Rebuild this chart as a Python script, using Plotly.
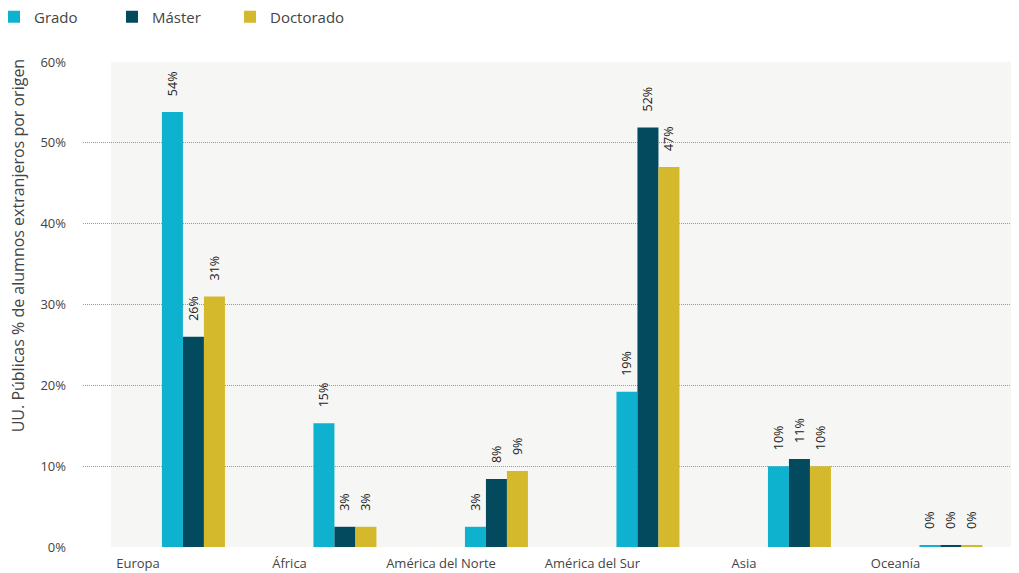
import plotly.graph_objects as go

categories = ["Europa", "África", "América del Norte", "América del Sur", "Asia", "Oceanía"]
series_names = ["Grado", "Máster", "Doctorado"]
grado = [53.8, 15.3, 2.5, 19.2, 10.0, 0.2]
master = [26.0, 2.5, 8.4, 51.9, 10.9, 0.2]
doctorado = [31.0, 2.5, 9.4, 47.0, 10.0, 0.2]
grado_labels = ["54%", "15%", "3%", "19%", "10%", "0%"]
master_labels = ["26%", "3%", "8%", "52%", "11%", "0%"]
doctorado_labels = ["31%", "3%", "9%", "47%", "10%", "0%"]
y_ticks = [0, 10, 20, 30, 40, 50, 60]
y_tick_labels = ["0%", "10%", "20%", "30%", "40%", "50%", "60%"]
y_title = "UU. Públicas % de alumnos extranjeros por origen"

colors = ["#0fb2ce", "#034a5f", "#d5b92c"]
FONT = "Open Sans, Noto Sans, DejaVu Sans, sans-serif"

W, H = 1011, 565  # page has an 8px body margin
L, T, B = 75, 54, 26
PW = W - L

fig = go.Figure()
data = [grado, master, doctorado]
labels = [grado_labels, master_labels, doctorado_labels]
w = 0.1386
start = 0.158
for i, (name, vals, lab, col) in enumerate(zip(series_names, data, labels, colors)):
    fig.add_trace(go.Bar(
        x=categories, y=vals, name=name,
        marker=dict(color=col, line=dict(width=0)),
        width=w, offset=start + i * w,
        text=["\u00a0\u00a0\u00a0\u00a0" + t for t in lab],
        textposition="outside", textangle=-90, constraintext="none",
        textfont=dict(color="#222222", size=12.5, family=FONT),
        cliponaxis=False,
    ))

fig.update_layout(
    width=W, height=H,
    margin=dict(l=L, r=0, t=T, b=B, autoexpand=False),
    paper_bgcolor="white", plot_bgcolor="white",
    barmode="overlay",
    font=dict(family=FONT, color="#444444", size=13),
    showlegend=True,
    legend=dict(orientation="h", x=(-14 - L) / PW, xref="paper", y=1 - 9 / H, yref="container",
                xanchor="left", yanchor="middle", bgcolor="rgba(0,0,0,0)",
                font=dict(size=15, color="#444444", family=FONT),
                entrywidth=73, entrywidthmode="pixels", itemsizing="constant"),
    xaxis=dict(type="category", range=[-0.363, 5.815], showgrid=False, zeroline=False,
               showline=False, ticks="", automargin=False, ticklabelstandoff=7,
               tickfont=dict(size=13, color="#444444")),
    yaxis=dict(range=[0, 60.0], tickvals=y_ticks, ticktext=y_tick_labels,
               showgrid=True, gridcolor="#999999", griddash="1px,1px", gridwidth=1,
               zeroline=False, showline=False, ticks="", ticklabelstandoff=16,
               automargin=False, tickfont=dict(size=13, color="#444444")),
    shapes=[dict(type="rect", xref="paper", yref="paper", x0=28 / PW, x1=1,
                 y0=0, y1=1, fillcolor="#f6f6f4", line=dict(width=0), layer="below")],
    annotations=[dict(text=y_title, xref="paper", yref="paper", x=(10 - L) / PW, y=0.62,
                      xanchor="center", yanchor="middle", textangle=-90, showarrow=False,
                      font=dict(size=16, color="#444444", family=FONT))],
)

fig.write_html("out.html")
